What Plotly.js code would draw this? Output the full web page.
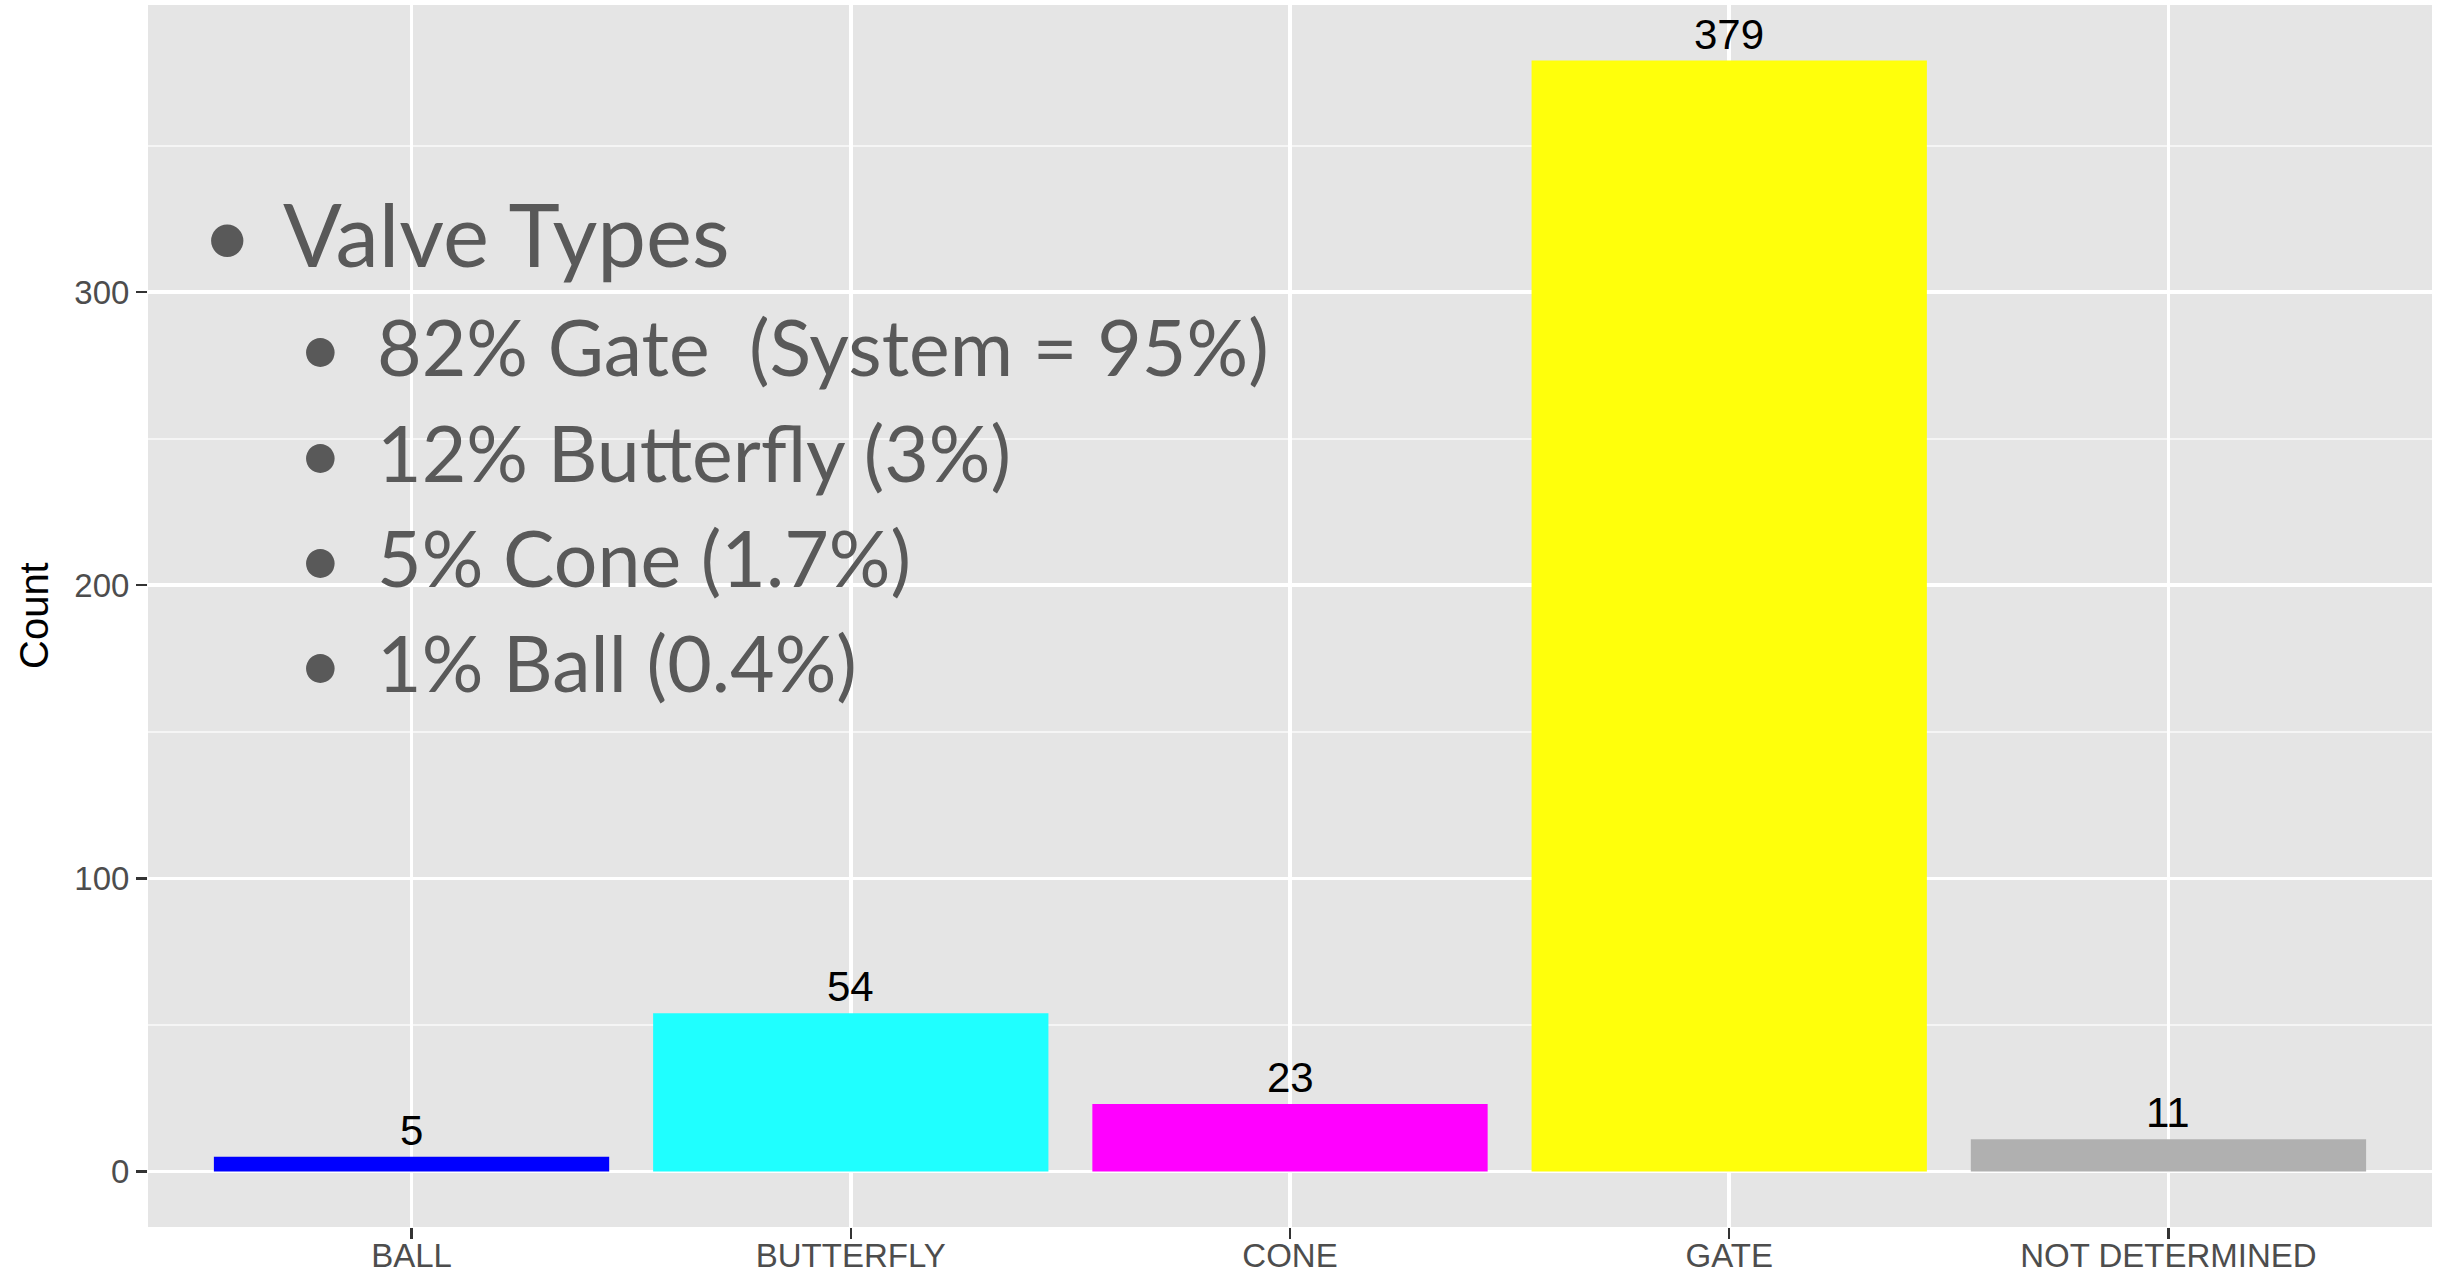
<!DOCTYPE html>
<html>
<head>
<meta charset="utf-8">
<script src="https://cdn.plot.ly/plotly-3.0.1.min.js"></script>
<style>html,body{margin:0;padding:0;background:#fff;}#chart{width:2450px;height:1276px;}</style>
</head>
<body>
<div id="chart"></div>
<script>
// ---- data ----
const categories = ['BALL', 'BUTTERFLY', 'CONE', 'GATE', 'NOT DETERMINED'];
const counts = [5, 54, 23, 379, 11];
const barColors = ['#0000FF', '#1FFFFF', '#FF00FF', '#FFFF0B', '#B0B0B0'];
const yTickVals = [0, 100, 200, 300];
const yTickText = ['0', '100', '200', '300'];
const noteLines = ['Valve Types', '82% Gate  (System = 95%)', '12% Butterfly (3%)', '5% Cone (1.7%)', '1% Ball (0.4%)'];
const noteLevels = [1, 2, 2, 2, 2];

// ---- layout helpers ----
const W = 2450, H = 1276;
const M = {l: 148, r: 18, t: 5, b: 49};
const noteBaselines = [265, 374, 480, 585, 690]; // page px
const lvl = {
  1: {bulletX: 79, textX: 133, size: 87},
  2: {bulletX: 172, textX: 227, size: 77}
};
const noteColor = '#595959';
const noteFont = 'Lato, "Open Sans", sans-serif';

const annotations = [];
// bar value labels
categories.forEach((c, i) => {
  annotations.push({
    x: c, y: counts[i], xref: 'x', yref: 'y',
    text: String(counts[i]), showarrow: false,
    xanchor: 'center', yanchor: 'bottom', yshift: 1,
    font: {family: 'Liberation Sans, Arial, sans-serif', size: 42, color: '#000000'}
  });
});
// y title
annotations.push({
  x: 0, y: 0.5, xref: 'paper', yref: 'paper', xshift: -114,
  text: 'Count', showarrow: false, textangle: -90,
  xanchor: 'center', yanchor: 'middle',
  font: {family: 'Liberation Sans, Arial, sans-serif', size: 40, color: '#000000'}
});
// bullet text box
noteLines.forEach((t, i) => {
  const L = lvl[noteLevels[i]];
  const yMid = noteBaselines[i] - 0.36 * L.size; // page px
  const yshift = -(yMid - M.t);
  annotations.push({
    x: 0, y: 1, xref: 'paper', yref: 'paper', xshift: L.bulletX, yshift: yshift,
    text: '•', showarrow: false, xanchor: 'center', yanchor: 'middle',
    font: {family: noteFont, size: L.size, color: noteColor}
  });
  annotations.push({
    x: 0, y: 1, xref: 'paper', yref: 'paper', xshift: L.textX, yshift: yshift,
    text: t.replace(/  /g, ' &nbsp;'), showarrow: false, xanchor: 'left', yanchor: 'middle',
    font: {family: noteFont, size: L.size, color: noteColor}
  });
});

const trace = {
  type: 'bar',
  x: categories,
  y: counts,
  marker: {color: barColors, line: {width: 0}},
  hoverinfo: 'x+y'
};

const layout = {
  width: W, height: H,
  margin: M,
  paper_bgcolor: '#FFFFFF',
  plot_bgcolor: '#E5E5E5',
  showlegend: false,
  bargap: 0.1,
  font: {family: 'Liberation Sans, Arial, sans-serif', size: 33, color: '#4D4D4D'},
  xaxis: {
    type: 'category', range: [-0.6, 4.6], automargin: false,
    showgrid: true, gridcolor: '#FFFFFF', gridwidth: 3.5,
    zeroline: false, showline: false,
    ticks: 'outside', ticklen: 11, tickwidth: 2.5, tickcolor: '#333333',
    ticklabelstandoff: -12,
    tickfont: {family: 'Liberation Sans, Arial, sans-serif', size: 33, color: '#4D4D4D'}
  },
  yaxis: {
    range: [-18.95, 397.95], automargin: false,
    tickmode: 'array', tickvals: yTickVals, ticktext: yTickText,
    showgrid: true, gridcolor: '#FFFFFF', gridwidth: 3.5,
    minor: {tickmode: 'linear', tick0: 0, dtick: 50, showgrid: true, gridcolor: '#F5F5F5', gridwidth: 2, ticks: ''},
    zeroline: false, showline: false,
    ticks: 'outside', ticklen: 11, tickwidth: 2.5, tickcolor: '#333333',
    tickfont: {family: 'Liberation Sans, Arial, sans-serif', size: 33, color: '#4D4D4D'}
  },
  annotations: annotations
};

Plotly.newPlot('chart', [trace], layout, {displayModeBar: false, staticPlot: true});
</script>
</body>
</html>
